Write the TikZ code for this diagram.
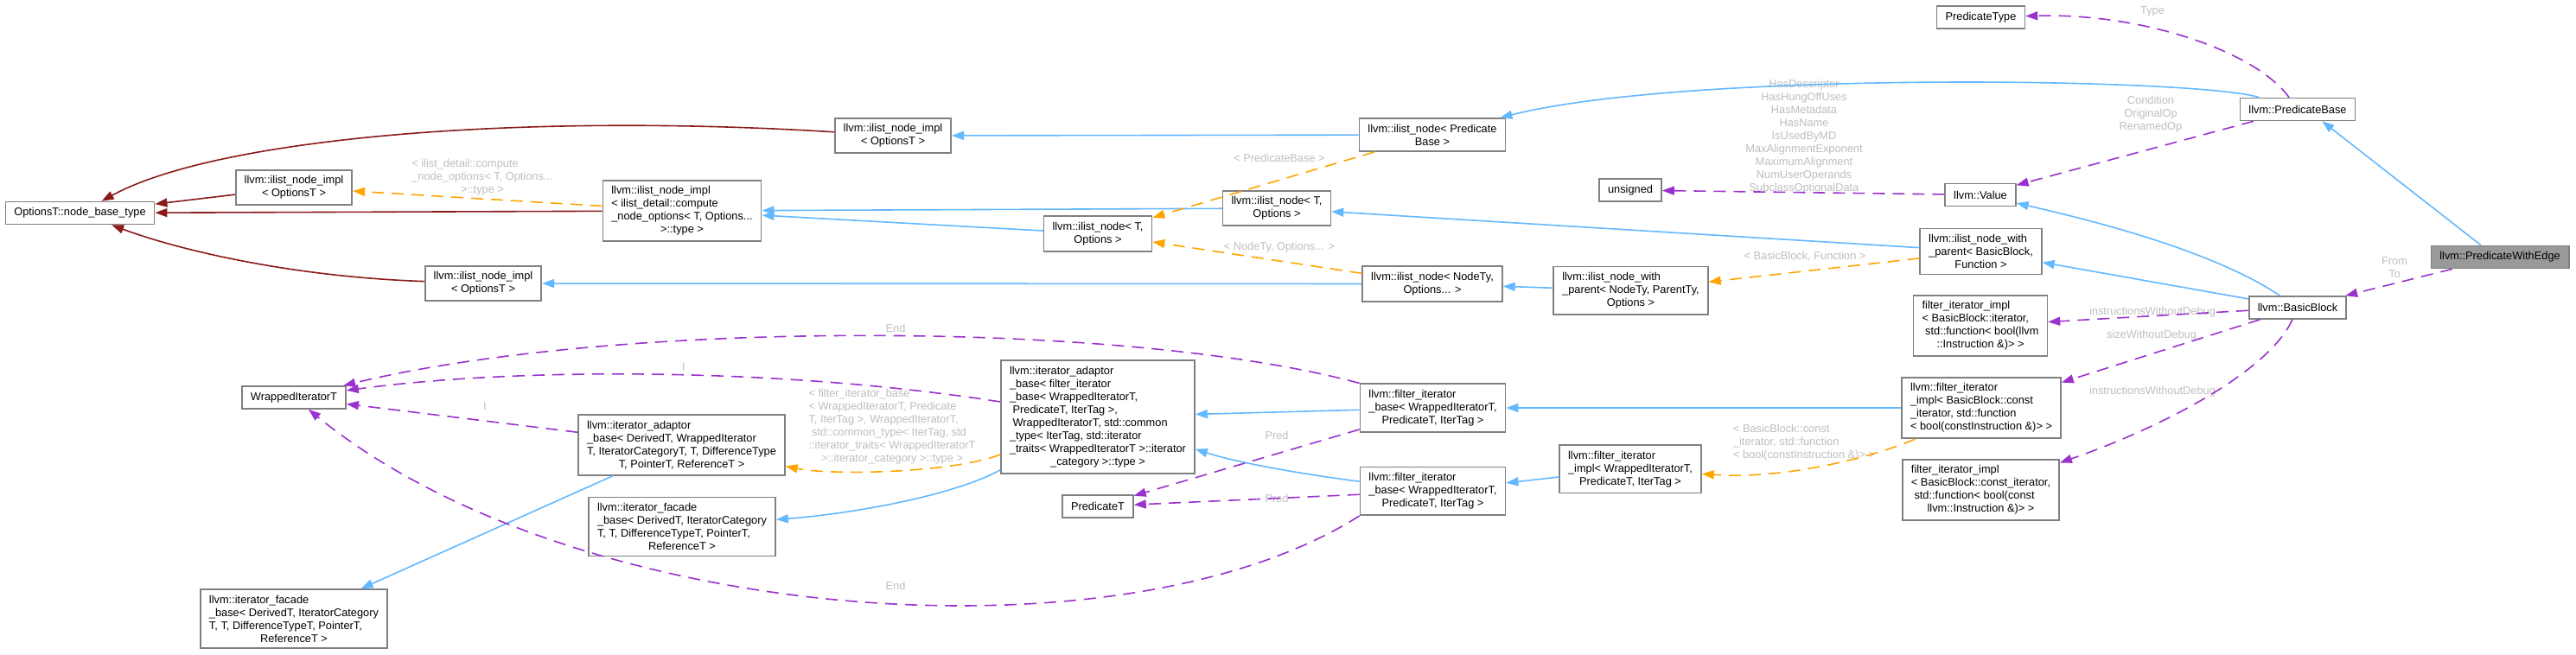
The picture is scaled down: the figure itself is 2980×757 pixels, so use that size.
\documentclass[tikz,border=0pt]{standalone}
\usepackage{fontspec}
\setmainfont{Liberation Sans}
\usetikzlibrary{arrows.meta}

\definecolor{inhblue}{HTML}{63B8FF}
\definecolor{usepurple}{HTML}{9A32CD}
\definecolor{tplorange}{HTML}{FFA500}
\definecolor{privred}{HTML}{8B1A1A}
\definecolor{boxgray}{HTML}{808080}
\definecolor{lblgray}{HTML}{BEBEBE}
\definecolor{hlgray}{HTML}{999999}

\newcommand{\lastln}[1]{\hfill#1\hfill\null}

\tikzset{
  box/.style={draw=boxgray, line width=0.8pt, fill=white, align=left,
    inner xsep=5pt, inner ysep=3.4pt, minimum height=13pt,
    font=\fontsize{6.4}{7.5}\selectfont},
  hlbox/.style={box, fill=hlgray},
  lbl/.style={text=lblgray, align=left, inner sep=0pt,
    font=\fontsize{6.4}{7.5}\selectfont},
  inh/.style={draw=inhblue, line width=0.8pt, -{Triangle[length=7pt,width=5pt]}},
  priv/.style={inh, draw=privred},
  tmpl/.style={inh, draw=tplorange, dash pattern=on 7pt off 4.5pt},
  member/.style={inh, draw=usepurple, dash pattern=on 7pt off 4.5pt}
}

\begin{document}
\begin{tikzpicture}[x=0.5pt,y=-0.5pt]

\path[fill=white] (0,0) rectangle (2980,757);
\useasboundingbox (0,0) rectangle (2980,757);

\node[box] (optbase) at (92.5,246.5) {OptionsT::node\_base\_type};

\node[box] (implA) at (340,217) {llvm::ilist\_node\_impl\\\lastln{< OptionsT >}};
\node[box] (implB) at (1033,157) {llvm::ilist\_node\_impl\\\lastln{< OptionsT >}};
\node[box] (implC) at (559,328) {llvm::ilist\_node\_impl\\\lastln{< OptionsT >}};
\node[box] (implD) at (789,244) {llvm::ilist\_node\_impl\\< ilist\_detail::compute\\\_node\_options< T, Options...\\\lastln{>::type >}};

\node[box] (nodeT1) at (1477,241) {llvm::ilist\_node< T,\\\lastln{Options >}};
\node[box] (nodeT2) at (1270,270.5) {llvm::ilist\_node< T,\\\lastln{Options >}};
\node[box] (nodePB) at (1657,156) {llvm::ilist\_node< Predicate\\\lastln{Base >}};
\node[box] (nodeNO) at (1657,328.5) {llvm::ilist\_node< NodeTy,\\\lastln{Options... >}};
\node[box] (withNP) at (1886.5,336.3) {llvm::ilist\_node\_with\\\_parent< NodeTy, ParentTy,\\\lastln{Options >}};
\node[box] (withBF) at (2291.5,291) {llvm::ilist\_node\_with\\\_parent< BasicBlock,\\\lastln{Function >}};

\node[box] (unsignedT) at (1886,220) {unsigned};
\node[box] (value) at (2291,225.5) {llvm::Value};
\node[box] (predType) at (2291.5,20) {PredicateType};
\node[box] (predBase) at (2658,126.5) {llvm::PredicateBase};
\node[hlbox] (predEdge) at (2892,297.5) {llvm::PredicateWithEdge};
\node[box] (basicBlock) at (2658,356) {llvm::BasicBlock};

\node[box] (implIt) at (2291,377) {filter\_iterator\_impl\\< BasicBlock::iterator,\\\ std::function< bool(llvm\\\lastln{::Instruction \&)> >}};
\node[box] (implConstL) at (2292,472) {llvm::filter\_iterator\\\_impl< BasicBlock::const\\\_iterator, std::function\\< bool(constInstruction \&)> >};
\node[box] (implConst) at (2291.5,567) {filter\_iterator\_impl\\< BasicBlock::const\_iterator,\\\ std::function< bool(const\\\lastln{llvm::Instruction \&)> >}};

\node[box] (fiWrapped) at (1886,542.7) {llvm::filter\_iterator\\\_impl< WrappedIteratorT,\\\lastln{PredicateT, IterTag >}};
\node[box] (baseU) at (1657.5,472) {llvm::filter\_iterator\\\_base< WrappedIteratorT,\\\lastln{PredicateT, IterTag >}};
\node[box] (baseL) at (1657.5,568.4) {llvm::filter\_iterator\\\_base< WrappedIteratorT,\\\lastln{PredicateT, IterTag >}};
\node[box] (predT) at (1270,586) {PredicateT};

\node[box] (adaptF) at (1270,482.5) {llvm::iterator\_adaptor\\\_base< filter\_iterator\\\_base< WrappedIteratorT,\\\ PredicateT, IterTag >,\\\ WrappedIteratorT, std::common\\\_type< IterTag, std::iterator\\\_traits< WrappedIteratorT >::iterator\\\lastln{\_category >::type >}};
\node[box] (adaptD) at (788.5,515) {llvm::iterator\_adaptor\\\_base< DerivedT, WrappedIterator\\T, IteratorCategoryT, T, DifferenceType\\\lastln{T, PointerT, ReferenceT >}};
\node[box] (facadeM) at (789,609.5) {llvm::iterator\_facade\\\_base< DerivedT, IteratorCategory\\T, T, DifferenceTypeT, PointerT,\\\lastln{ReferenceT >}};
\node[box] (facadeL) at (340,716) {llvm::iterator\_facade\\\_base< DerivedT, IteratorCategory\\T, T, DifferenceTypeT, PointerT,\\\lastln{ReferenceT >}};
\node[box] (wrapped) at (340,460) {WrappedIteratorT};

% edge labels
\node[lbl] (lCompute) at (558,205) {< ilist\_detail::compute\\\_node\_options< T, Options...\\\lastln{>::type >}};
\node[lbl] (lPB) at (1480,183) {< PredicateBase >};
\node[lbl, align=center] (lBits) at (2087,158) {HasDescriptor\\HasHungOffUses\\HasMetadata\\HasName\\IsUsedByMD\\MaxAlignmentExponent\\MaximumAlignment\\NumUserOperands\\SubclassOptionalData};
\node[lbl] (lType) at (2490,13) {Type};
\node[lbl, align=center] (lCond) at (2488,132) {Condition\\OriginalOp\\RenamedOp};
\node[lbl] (lNO) at (1480,286) {< NodeTy, Options... >};
\node[lbl] (lBF) at (2088,297) {< BasicBlock, Function >};
\node[lbl, align=center] (lFromTo) at (2770,310) {From\\To};
\node[lbl] (lInstrA) at (2490,361) {instructionsWithoutDebug};
\node[lbl] (lSize) at (2489,388) {sizeWithoutDebug};
\node[lbl] (lInstrB) at (2490,453) {instructionsWithoutDebug};
\node[lbl] (lConst) at (2087,512) {< BasicBlock::const\\\_iterator, std::function\\< bool(constInstruction \&)> >};
\node[lbl] (lEndA) at (1036,380) {End};
\node[lbl] (lEndB) at (1036,678) {End};
\node[lbl] (lIA) at (791,425) {I};
\node[lbl] (lIB) at (561,470) {I};
\node[lbl] (lPredA) at (1477,504) {Pred};
\node[lbl] (lPredB) at (1477,577) {Pred};
\node[lbl] (lFilt) at (1032,494) {< filter\_iterator\_base\\< WrappedIteratorT, Predicate\\T, IterTag >, WrappedIteratorT,\\\ std::common\_type< IterTag, std\\::iterator\_traits< WrappedIteratorT\\\lastln{>::iterator\_category >::type >}};

% inheritance
\draw[inh] (predEdge.148) -- (predBase.-26);
\draw[inh] (basicBlock) .. controls (2560,290) and (2420,255) .. (value);
\draw[inh] (basicBlock) -- (withBF);
\draw[inh] (withBF) -- (nodeT1);
\draw[inh] (withNP) -- (nodeNO);
\draw[inh] (nodeNO) -- (implC);
\draw[inh] (nodeT2) -- (implD);
\draw[inh] (nodeT1) -- (implD);
\draw[inh] (nodePB) -- (implB);
\draw[inh] (predBase) .. controls (2540,90) and (1950,82) .. (nodePB);
\draw[inh] (implConstL) -- (baseU);
\draw[inh] (fiWrapped) -- (baseL);
\draw[inh] (baseU) -- (adaptF);
\draw[inh] (baseL) .. controls (1480,545) and (1420,532) .. (adaptF);
\draw[inh] (adaptF) .. controls (1100,575) and (980,595) .. (facadeM);
\draw[inh] (adaptD) -- (facadeL);

% private
\draw[priv] (implB) .. controls (600,130) and (250,160) .. (optbase);
\draw[priv] (implA) -- (optbase);
\draw[priv] (implD) -- (optbase);
\draw[priv] (implC) .. controls (330,320) and (200,287) .. (optbase);

% template instances
\draw[tmpl] (implD) -- (implA);
\draw[tmpl] (nodePB) -- (nodeT2);
\draw[tmpl] (nodeNO) -- (nodeT2);
\draw[tmpl] (withBF) -- (withNP);
\draw[tmpl] (implConstL) .. controls (2190,520) and (2080,556) .. (fiWrapped);
\draw[tmpl] (adaptF) .. controls (1100,548) and (960,550) .. (adaptD);

% members
\draw[member] (predBase) .. controls (2610,60) and (2480,15) .. (predType);
\draw[member] (predBase) -- (value);
\draw[member] (value) -- (unsignedT);
\draw[member] (predEdge) -- (basicBlock);
\draw[member] (basicBlock) -- (implIt);
\draw[member] (basicBlock) -- (implConstL);
\draw[member] (basicBlock) .. controls (2625,430) and (2500,495) .. (implConst);
\draw[member] (baseU) -- (predT);
\draw[member] (baseL) -- (predT);
\draw[member] (baseU.north west) .. controls (1300,370) and (713,370) .. (wrapped);
\draw[member] (baseL.south west) .. controls (1300,770) and (664,724) .. (wrapped);
\draw[member] (adaptF) .. controls (900,425) and (600,425) .. (wrapped);
\draw[member] (adaptD) -- (wrapped);

\end{tikzpicture}
\end{document}
